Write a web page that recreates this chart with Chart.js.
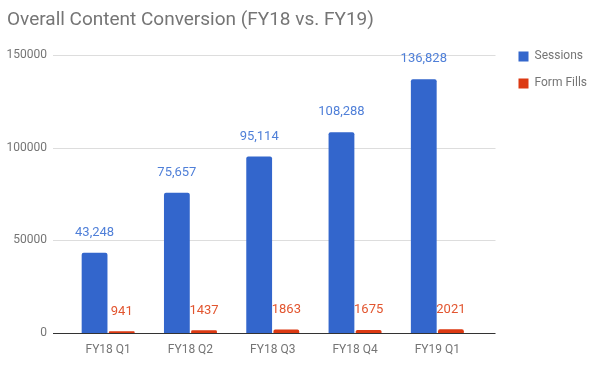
<!DOCTYPE html>
<html>
<head>
<meta charset="utf-8">
<script src="https://cdn.jsdelivr.net/npm/chart.js@4.4.0/dist/chart.umd.min.js"></script>
<style>
  html, body { margin: 0; padding: 0; background: #fff; }
  #wrap { width: 600px; height: 368px; position: relative; }
</style>
</head>
<body>
<div id="wrap"><canvas id="grafico"></canvas></div>
<script>
const quarters = ['FY18 Q1', 'FY18 Q2', 'FY18 Q3', 'FY18 Q4', 'FY19 Q1'];
const sessions = [43248, 75657, 95114, 108288, 136828];
const formFills = [941, 1437, 1863, 1675, 2021];
const yTicks = [0, 50000, 100000, 150000];

// grid lines wider than the category area, like the original chart
const gridPlugin = {
    id: 'gridExt',
    beforeDatasetsDraw(chart) {
        const ctx = chart.ctx;
        const y = chart.scales.y;
        const left = chart.chartArea.left - 14;
        const right = chart.chartArea.right + 17;
        ctx.save();
        yTicks.forEach(v => {
            const py = Math.round(y.getPixelForValue(v)) + 0.5;
            ctx.strokeStyle = v === 0 ? '#333333' : '#dddddd';
            ctx.lineWidth = 1;
            ctx.beginPath();
            ctx.moveTo(left, py);
            ctx.lineTo(right, py);
            ctx.stroke();
        });
        ctx.restore();
    }
};

// value labels above the bars
const labelPlugin = {
    id: 'valores',
    afterDatasetsDraw(chart) {
        const ctx = chart.ctx;
        ctx.save();
        ctx.font = '13px Roboto';
        ctx.textAlign = 'center';
        ctx.textBaseline = 'middle';
        chart.data.datasets.forEach((ds, i) => {
            const meta = chart.getDatasetMeta(i);
            ctx.fillStyle = ds.labelColor;
            meta.data.forEach((bar, j) => {
                const v = ds.data[j];
                const txt = ds.useComma ? v.toLocaleString('en-US') : String(v);
                ctx.fillText(txt, bar.x, bar.y - 20);
            });
        });
        ctx.restore();
    }
};

new Chart(document.getElementById('grafico'), {
    type: 'bar',
    data: {
        labels: quarters,
        datasets: [{
            label: 'Sessions',
            data: sessions,
            backgroundColor: '#3366cc',
            labelColor: '#4f7fd8',
            useComma: true,
            borderRadius: 2,
            categoryPercentage: 0.66,
            barPercentage: 0.95
        }, {
            label: 'Form Fills',
            data: formFills,
            backgroundColor: '#dc3912',
            labelColor: '#e2552f',
            useComma: false,
            borderRadius: 2,
            categoryPercentage: 0.66,
            barPercentage: 0.95
        }]
    },
    options: {
        responsive: true,
        maintainAspectRatio: false,
        animation: false,
        layout: { padding: { left: 7, right: 3, top: 6, bottom: 0 } },
        plugins: {
            title: {
                display: true,
                text: 'Overall Content Conversion (FY18 vs. FY19)',
                align: 'start',
                color: '#757575',
                font: { family: 'Roboto', size: 19, weight: 'normal' },
                padding: { top: 3, bottom: 23 }
            },
            legend: {
                position: 'right',
                align: 'start',
                title: {
                    display: true,
                    text: '',
                    font: { family: 'Roboto', size: 12 },
                    padding: { top: 0, bottom: 15 }
                },
                labels: {
                    boxWidth: 10,
                    boxHeight: 10,
                    padding: 15,
                    color: '#757575',
                    font: { family: 'Roboto', size: 12 }
                }
            },
            tooltip: { enabled: false }
        },
        scales: {
            x: {
                grid: { display: false, drawTicks: false },
                border: { display: false },
                ticks: { color: '#757575', font: { family: 'Roboto', size: 12 }, padding: 10 },
                afterFit: s => { s.height = 35; }
            },
            y: {
                min: 0,
                max: 150000,
                grid: { display: false, drawTicks: false },
                border: { display: false },
                afterBuildTicks: s => { s.ticks = yTicks.map(v => ({ value: v })); },
                ticks: {
                    color: '#757575',
                    font: { family: 'Roboto', size: 12 },
                    padding: 20,
                    callback: v => String(v)
                },
                afterFit: s => { s.width = 60; }
            },
            espaco: {
                position: 'right',
                display: true,
                grid: { display: false, drawTicks: false },
                border: { display: false },
                ticks: { display: false },
                afterFit: s => { s.width = 25; }
            }
        }
    },
    plugins: [gridPlugin, labelPlugin]
});
</script>
</body>
</html>
